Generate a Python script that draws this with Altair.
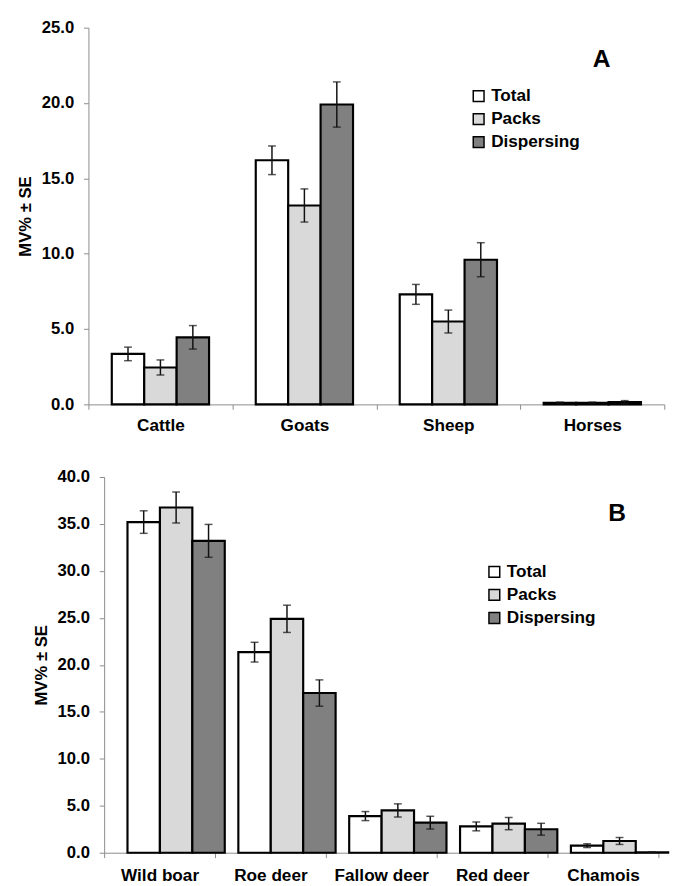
import altair as alt
import pandas as pd

series = ["Total", "Packs", "Dispersing"]
colors = ["#ffffff", "#d9d9d9", "#808080"]

cats_a = ["Cattle", "Goats", "Sheep", "Horses"]
total_a = [3.35, 16.2, 7.3, 0.1]
packs_a = [2.45, 13.2, 5.5, 0.1]
disp_a = [4.45, 19.9, 9.6, 0.15]
total_a_se = [0.45, 0.95, 0.66, 0.05]
packs_a_se = [0.5, 1.1, 0.76, 0.05]
disp_a_se = [0.78, 1.5, 1.13, 0.1]

cats_b = ["Wild boar", "Roe deer", "Fallow deer", "Red deer", "Chamois"]
total_b = [35.2, 21.35, 3.9, 2.8, 0.75]
packs_b = [36.75, 24.9, 4.5, 3.1, 1.25]
disp_b = [33.2, 17.0, 3.2, 2.5, 0.05]
total_b_se = [1.2, 1.05, 0.48, 0.47, 0.2]
packs_b_se = [1.65, 1.45, 0.7, 0.65, 0.37]
disp_b_se = [1.75, 1.4, 0.68, 0.63, 0.0]

y_ticks_a = [0, 5, 10, 15, 20, 25]
y_ticks_b = [0, 5, 10, 15, 20, 25, 30, 35, 40]

FONT = "Liberation Sans"


def long_df(cats, vals, ses):
    rows = []
    for s, v_list, se_list in zip(series, vals, ses):
        for c, v, e in zip(cats, v_list, se_list):
            rows.append({"cat": c, "series": s, "value": v,
                         "lo": max(v - e, 0), "hi": v + e})
    return pd.DataFrame(rows)


def panel(df, cats, yticks, ymax, width, height, xrange, yoffset, xlabpad,
          legend_xy, letter, letter_xy):
    base = alt.Chart(df)
    x = alt.X("cat:N", sort=cats, title=None,
              scale=alt.Scale(paddingInner=0, paddingOuter=0, range=xrange),
              axis=alt.Axis(labelAngle=0, tickBand="extent", tickSize=5,
                            labelPadding=xlabpad, labelFontSize=17.5))
    xo = alt.XOffset("series:N", sort=series,
                     scale=alt.Scale(paddingInner=0, paddingOuter=0.72))
    bars = base.mark_bar(stroke="black", strokeWidth=2.2).encode(
        x=x, xOffset=xo,
        y=alt.Y("value:Q", title="MV% ± SE",
                scale=alt.Scale(domain=[0, ymax], nice=False),
                axis=alt.Axis(values=yticks, format=".1f", offset=yoffset,
                              tickSize=5, labelPadding=10, titlePadding=7)),
        fill=alt.Fill("series:N", sort=series,
                      scale=alt.Scale(domain=series, range=colors),
                      legend=alt.Legend(title=None, orient="none",
                                        legendX=legend_xy[0], legendY=legend_xy[1],
                                        symbolType="square", symbolSize=121,
                                        symbolStrokeColor="black",
                                        symbolStrokeWidth=1.5,
                                        labelFont=FONT, labelFontSize=17.5,
                                        labelFontWeight="bold", labelColor="black",
                                        labelOffset=4, rowPadding=4.5, padding=0)),
    )
    rules = base.mark_rule(color="#111111", strokeWidth=1.5).encode(
        x=x, xOffset=xo, y="lo:Q", y2="hi:Q")
    cap_lo = base.mark_tick(color="#111111", thickness=1.5, size=8).encode(
        x=x, xOffset=xo, y="lo:Q")
    cap_hi = base.mark_tick(color="#111111", thickness=1.5, size=8).encode(
        x=x, xOffset=xo, y="hi:Q")
    lab = alt.Chart(pd.DataFrame({"t": [letter]})).mark_text(
        font=FONT, fontSize=25, fontWeight="bold", color="black").encode(
        x=alt.value(letter_xy[0]), y=alt.value(letter_xy[1]), text="t:N")
    return alt.layer(bars, rules, cap_lo, cap_hi, lab).properties(
        width=width, height=height)


df_a = long_df(cats_a, [total_a, packs_a, disp_a], [total_a_se, packs_a_se, disp_a_se])
df_b = long_df(cats_b, [total_b, packs_b, disp_b], [total_b_se, packs_b_se, disp_b_se])

top = panel(df_a, cats_a, y_ticks_a, 25, 571, 384, [-16, 571], 16, 8,
            (373, 61), "A", (507, 32))
bottom = panel(df_b, cats_b, y_ticks_b, 40, 565, 383, [0, 565], 0, 9,
               (389, 88), "B", (523, 37))

chart = alt.vconcat(top, bottom, spacing=34).resolve_scale(
    fill="independent"
).properties(
    padding={"left": 8, "top": 2.5, "right": 0, "bottom": 0}
).configure_view(stroke=None).configure_axis(
    grid=False, domainColor="#8c8c8c", tickColor="#8c8c8c", domainWidth=1,
    labelFont=FONT, labelFontSize=17, labelFontWeight="bold", labelColor="black",
    titleFont=FONT, titleFontSize=17, titleFontWeight="bold", titleColor="black"
)

chart.save("out.html", embed_options={"renderer": "svg", "actions": False})
